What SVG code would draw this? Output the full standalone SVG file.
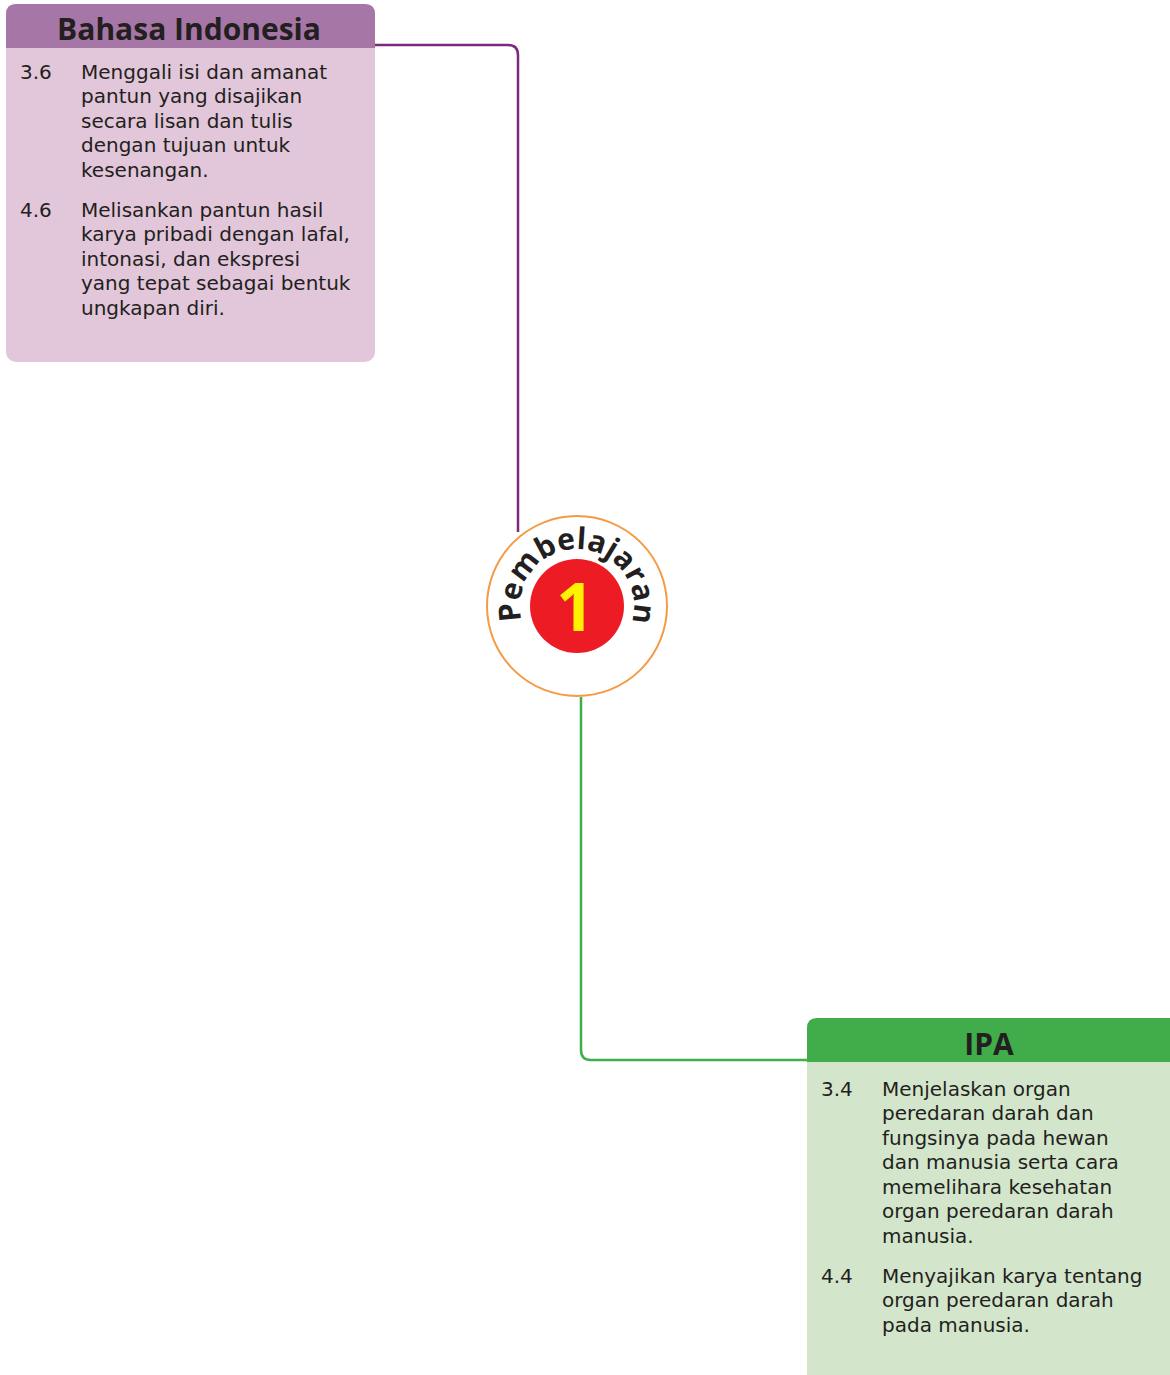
<svg xmlns="http://www.w3.org/2000/svg" width="1170" height="1375" viewBox="0 0 1170 1375">
<style>
.body{font-family:"DejaVu Sans","Open Sans",sans-serif;font-size:20px;fill:#231f20}
.head{font-family:"Open Sans","Noto Sans","DejaVu Sans",sans-serif;font-size:30px;font-weight:bold;fill:#231f20;text-anchor:middle}
.conn{fill:none;stroke-width:2.5}
</style>
<defs>
<path id="arc" d="M522.5,622.7 A57,57 0 1 1 630.9,624.6"/>
</defs>
<rect width="1170" height="1375" fill="#ffffff"/>
<g id="connectors">
<path class="conn" stroke="#80287f" d="M375,45 H508 Q518,45 518,55 V532"/>
<path class="conn" stroke="#3fae49" d="M581,697 V1050 Q581,1060 591,1060 H808"/>
</g>
<g id="bahasa">
<rect x="6" y="4" width="369" height="358" rx="10" fill="#e2c6da"/>
<path d="M6,48 V14 Q6,4 16,4 H365 Q375,4 375,14 V48 Z" fill="#a676a6"/>
<text class="head" x="189" y="40">Bahasa Indonesia</text>
<text class="body"><tspan x="20" y="79">3.6</tspan><tspan x="81" y="79">Menggali isi dan amanat</tspan><tspan x="81" y="103">pantun yang disajikan</tspan><tspan x="81" y="128">secara lisan dan tulis</tspan><tspan x="81" y="152">dengan tujuan untuk</tspan><tspan x="81" y="177">kesenangan.</tspan></text>
<text class="body"><tspan x="20" y="217">4.6</tspan><tspan x="81" y="217">Melisankan pantun hasil</tspan><tspan x="81" y="241">karya pribadi dengan lafal,</tspan><tspan x="81" y="266">intonasi, dan ekspresi</tspan><tspan x="81" y="290">yang tepat sebagai bentuk</tspan><tspan x="81" y="315">ungkapan diri.</tspan></text>
</g>
<g id="pembelajaran">
<circle cx="577" cy="606" r="90" fill="#ffffff" stroke="#f59a45" stroke-width="2"/>
<circle cx="577" cy="606" r="47" fill="#ed1c24"/>
<text font-family="Open Sans, Noto Sans, DejaVu Sans, sans-serif" font-size="30" font-weight="bold" fill="#231f20"><textPath href="#arc" startOffset="50%" text-anchor="middle" textLength="210" lengthAdjust="spacing">Pembelajaran</textPath></text>
<text x="575" y="631" font-family="Open Sans, Noto Sans, DejaVu Sans, sans-serif" font-size="66" font-weight="bold" fill="#fff200" text-anchor="middle">1</text>
</g>
<g id="ipa">
<rect x="807" y="1018" width="380" height="370" rx="10" fill="#d3e6cb"/>
<path d="M807,1062 V1028 Q807,1018 817,1018 H1187 V1062 Z" fill="#40ad4a"/>
<text class="head" x="989" y="1055">IPA</text>
<text class="body"><tspan x="821" y="1096">3.4</tspan><tspan x="882" y="1096">Menjelaskan organ</tspan><tspan x="882" y="1120">peredaran darah dan</tspan><tspan x="882" y="1145">fungsinya pada hewan</tspan><tspan x="882" y="1169">dan manusia serta cara</tspan><tspan x="882" y="1194">memelihara kesehatan</tspan><tspan x="882" y="1218">organ peredaran darah</tspan><tspan x="882" y="1243">manusia.</tspan></text>
<text class="body"><tspan x="821" y="1283">4.4</tspan><tspan x="882" y="1283">Menyajikan karya tentang</tspan><tspan x="882" y="1307">organ peredaran darah</tspan><tspan x="882" y="1332">pada manusia.</tspan></text>
</g>
</svg>
